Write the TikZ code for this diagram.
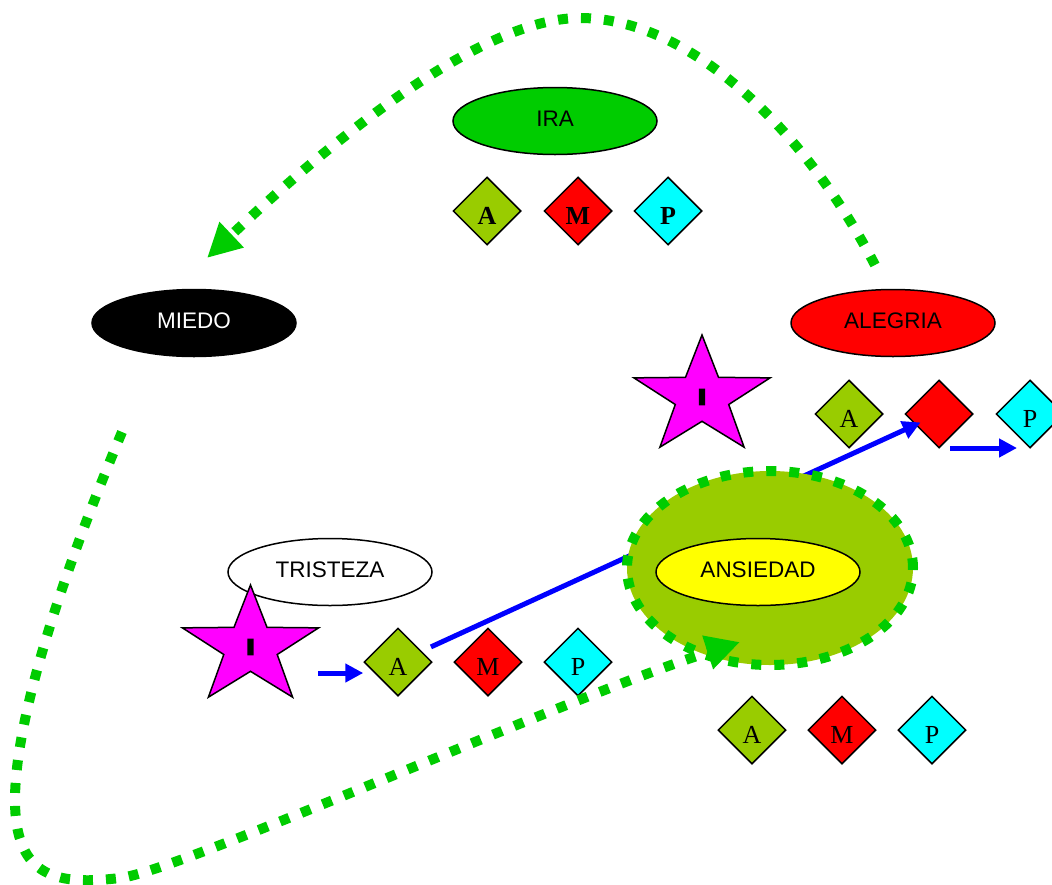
\documentclass[tikz,border=0pt]{standalone}
\usepackage{fontspec}
\setmainfont{Liberation Serif}
\setsansfont{Liberation Sans}
\newfontfamily\starfont{DejaVu Sans}[BoldFeatures={FakeBold=6}]
\usetikzlibrary{shapes.geometric,arrows.meta}
\definecolor{irag}{RGB}{0,204,0}
\definecolor{agreen}{RGB}{153,204,0}
\definecolor{mag}{RGB}{255,0,255}
\definecolor{cyanp}{RGB}{0,255,255}
\definecolor{yel}{RGB}{255,255,0}
\definecolor{redm}{RGB}{255,0,0}
\begin{document}
\begin{tikzpicture}[x=1pt,y=-1pt,
  emo/.style={ellipse, draw=black, line width=1.5pt, minimum width=204pt, minimum height=67pt, inner sep=0pt, text height=16pt, text depth=6pt, font=\sffamily\fontsize{22.5}{25}\selectfont},
  dia/.style={diamond, draw=black, line width=1.5pt, minimum width=68pt, minimum height=68pt, inner sep=0pt, text height=26pt, text depth=0pt, font=\rmfamily\fontsize{26}{28}\selectfont},
  diaA/.style={dia, fill=agreen},
  diaM/.style={dia, fill=redm},
  diaP/.style={dia, fill=cyanp},
  starbox/.style={star, star points=5, star point ratio=2.55, draw=black, line width=1.5pt, fill=mag, minimum size=124pt, inner sep=0pt, transform shape, font=\starfont\bfseries\fontsize{21}{24}\selectfont},
  bluearrow/.style={draw=blue, line width=5pt, -{Triangle[length=18pt,width=18pt]}},
  greendots/.style={draw=irag, line width=10pt, dash pattern=on 10pt off 13pt, -{Triangle[length=34pt,width=33pt]}}
]
\useasboundingbox (0,0) rectangle (1052,884);

% IRA
\node[emo, fill=irag] (ira) at (555,121) {IRA};
\node[diaA] (iA) at (487,211) {\bfseries A};
\node[diaM] (iM) at (578,211) {\bfseries M};
\node[diaP] (iP) at (668,211) {\bfseries P};

% MIEDO
\node[emo, fill=black, text=white] (miedo) at (194,323) {MIEDO};

% ALEGRIA
\node[emo, fill=redm] (alegria) at (893,323) {ALEGRIA};
\begin{scope}[shift={(702,397)}, xscale=1.155]
  \node[starbox] (s1) at (0,0) {I};
\end{scope}
\node[diaA] (aA) at (849,414) {A};
\node[diaM] (aM) at (939,414) {};
\node[diaP] (aP) at (1030,414) {P};
\coordinate (b2s) at (950,448);
\coordinate (b2e) at (1017,448);
\draw[bluearrow] (b2s) -- (b2e);

% TRISTEZA
\node[emo, fill=white] (tristeza) at (330,572) {TRISTEZA};
\begin{scope}[shift={(250.5,647)}, xscale=1.155]
  \node[starbox] (s2) at (0,0) {I};
\end{scope}
\node[diaA] (tA) at (398,662) {A};
\node[diaM] (tM) at (488,662) {M};
\node[diaP] (tP) at (578,662) {P};
\coordinate (b3s) at (318,673);
\draw[bluearrow] (b3s) -- (b3s -| tA.west);

% long blue connector (under the halo)
\draw[bluearrow, shorten <=10pt, shorten >=-6pt] (tA) -- (aM);

% ANSIEDAD
\node[ellipse, fill=agreen, draw=irag, line width=10pt, dash pattern=on 10pt off 13pt, minimum width=286pt, minimum height=194pt, inner sep=0pt, outer sep=0pt] (halo) at (770,568) {};
\node[emo, fill=yel] (ansiedad) at (758,572) {ANSIEDAD};
\node[diaA] (nA) at (752,730) {A};
\node[diaM] (nM) at (842,730) {M};
\node[diaP] (nP) at (932,730) {P};

% green dotted arrows
\coordinate (g1s) at (875,265);
\coordinate (g1t) at (580,18);
\coordinate (g1e) at (207,258);
\draw[greendots] (g1s) .. controls (805,130) and (690,18) .. (g1t)
  .. controls (470,18) and (300,170) .. (g1e);

\coordinate (g2s) at (122,432);
\coordinate (g2a) at (15,800);
\coordinate (g2b) at (120,878);
\coordinate (g2e) at (740,642);
\draw[greendots] (g2s) .. controls (60,580) and (15,720) .. (g2a)
  .. controls (15,880) and (60,885) .. (g2b)
  .. controls (180,871) and (560,700) .. (g2e);
\end{tikzpicture}
\end{document}
